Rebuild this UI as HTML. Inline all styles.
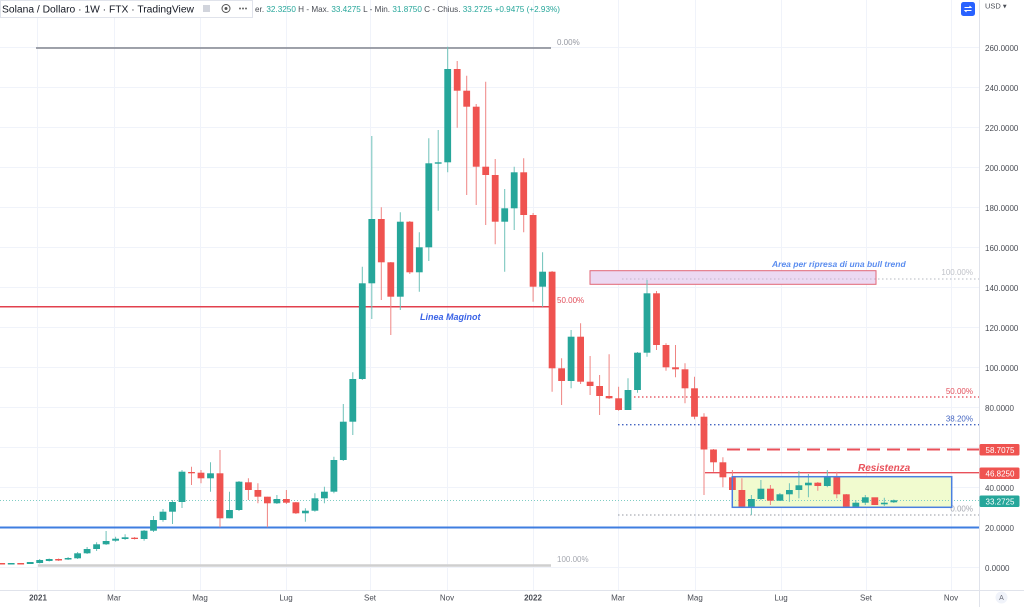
<!DOCTYPE html>
<html><head><meta charset="utf-8"><style>
html,body{margin:0;padding:0;background:#fff;}
svg{display:block;font-family:"Liberation Sans",sans-serif;}
</style></head><body>
<svg width="1024" height="607" viewBox="0 0 1024 607" xmlns="http://www.w3.org/2000/svg">
<rect width="1024" height="607" fill="#fff"/>
<!-- grid -->
<g stroke="#f0f3fa" stroke-width="1">
<path d="M0 47.5H979M0 87.5H979M0 127.5H979M0 167.5H979M0 207.5H979M0 247.5H979M0 287.5H979M0 327.5H979M0 367.5H979M0 407.5H979M0 447.5H979M0 487.5H979M0 527.5H979M0 567.5H979"/>
<path d="M37.5 0V590M114.5 0V590M200.5 0V590M286.5 0V590M370.5 0V590M447.5 0V590M533.5 0V590M618.5 0V590M695.5 0V590M781.5 0V590M866.5 0V590M951.5 0V590"/>
</g>
<!-- fib lines upper-left -->
<line x1="36" y1="48" x2="551" y2="48" stroke="#80848e" stroke-width="1.5"/>
<line x1="38" y1="565.5" x2="551" y2="565.5" stroke="#cfcfcf" stroke-width="2.5"/>
<line x1="0" y1="306.7" x2="551" y2="306.7" stroke="#e2404e" stroke-width="1.5"/>
<text x="557" y="45" font-size="8" fill="#9598a1">0.00%</text>
<text x="557" y="303" font-size="8" fill="#e2505c">50.00%</text>
<text x="557" y="562" font-size="8" fill="#a5a8b0">100.00%</text>
<text x="420" y="320" font-size="9" font-weight="bold" font-style="italic" fill="#3a63e6">Linea Maginot</text>
<!-- fib right -->
<line x1="622" y1="279" x2="979" y2="279" stroke="#b5b8c0" stroke-width="1" stroke-dasharray="1.5,2.5"/>
<line x1="634" y1="397" x2="979" y2="397" stroke="#e2404e" stroke-width="1.3" stroke-dasharray="1.5,2.5"/>
<line x1="618" y1="424.7" x2="979" y2="424.7" stroke="#4566c2" stroke-width="1.3" stroke-dasharray="1.5,2.5"/>
<line x1="618" y1="515" x2="979" y2="515" stroke="#9598a1" stroke-width="1" stroke-dasharray="1.5,2.5"/>
<text x="973" y="275" font-size="8" fill="#c0c2c8" text-anchor="end">100.00%</text>
<text x="973" y="394" font-size="8" fill="#e2505c" text-anchor="end">50.00%</text>
<text x="973" y="421.7" font-size="8" fill="#4566c2" text-anchor="end">38.20%</text>
<text x="973" y="511.7" font-size="8" fill="#a5a8b0" text-anchor="end">0.00%</text>
<!-- pink rect -->
<rect x="590" y="270.7" width="286" height="13.6" fill="#ecd9f2" stroke="#e06677" stroke-width="1"/>
<line x1="622" y1="279" x2="876" y2="279" stroke="#c4b5cc" stroke-width="1" stroke-dasharray="1.5,2.5"/>
<text x="772" y="267" font-size="8.5" font-weight="bold" font-style="italic" fill="#5b8def">Area per ripresa di una bull trend</text>
<!-- range box fill -->
<rect x="732.3" y="476.7" width="219.4" height="30.6" fill="#f1fbcf"/>
<!-- resistance lines -->
<line x1="727" y1="449.5" x2="979" y2="449.5" stroke="#e8505a" stroke-width="2" stroke-dasharray="13,7"/>
<line x1="705" y1="472.7" x2="979" y2="472.7" stroke="#e8505a" stroke-width="1.3"/>
<text x="858" y="471" font-size="10" font-weight="bold" font-style="italic" fill="#e8505a">Resistenza</text>
<!-- current price & support -->
<line x1="0" y1="500.5" x2="979" y2="500.5" stroke="#7fcdc4" stroke-width="1" stroke-dasharray="1,2"/>
<line x1="0" y1="527.5" x2="979" y2="527.5" stroke="#3f7ee0" stroke-width="2"/>
<!-- wicks -->
<path stroke="#6fc2b9" stroke-width="1" fill="none" d="M11.2 563V564.5M39.7 559V563.5M49.2 558.5V561.5M68.1 557V560M77.6 552V559M87.1 547V554M96.6 542.3V551M106.1 531V545M115.6 536.7V541.7M125.1 534.3V540M144.1 530V540.7M153.5 516V532M163 509V521.7M172.5 500V524M182 470V508M210.5 462.3V491.7M229.5 491.7V518.3M239 481V511M276.9 495V504M305.4 508.3V521.7M314.9 493.3V511.7M324.4 486.7V503.3M333.9 456.7V493.3M343.3 404V461M352.8 372.3V435M362.3 266.7V380M371.8 136V319M400.3 212.3V310M419.3 232.3V291.7M428.8 138.3V261M438.2 130V210.7M447.7 46.7V172.3M504.7 189V271.7M514.2 166.7V230M542.6 252.3V306.7M571.1 330V388.3M628 378.3V410M637.5 352V392.7M647 280V356.7M751.4 495V515M760.9 480V500M779.9 493V501M789.4 483.3V501.7M798.9 471V498.3M808.4 474V497.3M827.3 470V487.3M855.8 500V507M865.3 495V505M884.3 497.7V506M893.8 499.5V503"/>
<path stroke="#ef8583" stroke-width="1" fill="none" d="M58.6 558.5V561M134.6 537V539.5M191.5 466.7V485M201 470V483.3M220 450V527.3M248.4 478.3V500M257.9 483.3V503.3M267.4 496.7V527.3M286.4 490V504M295.9 502V514M381.3 207.3V300M390.8 262V335M409.8 221V274M457.2 61V127.7M466.7 75.7V195M476.2 104V205M485.7 81.7V225M495.2 159V244.3M523.7 158.3V232.3M533.1 213V301.7M552.1 271V391.7M561.6 358.3V405M580.6 323.3V384M590.1 356V395M599.6 375V415M609.1 354.3V399M618.6 386.7V410.7M656.5 291V350M666 343.3V370.7M675.5 345V377.3M685 363.3V403.3M694.5 376.7V419.3M704 413.3V495M713.5 449V471.7M722.9 457.3V487.3M732.4 470V491M741.9 478.3V507M770.4 485V505M817.8 482V490.7M836.8 471.7V498.3M846.3 494V507"/>
<!-- teal bodies -->
<g fill="#26a69a">
<rect x="7.8" y="563" width="6.8" height="1.5"/>
<rect x="26.8" y="562" width="6.8" height="2"/>
<rect x="36.3" y="560" width="6.8" height="3"/>
<rect x="45.8" y="559" width="6.8" height="2"/>
<rect x="64.7" y="558" width="6.8" height="1.5"/>
<rect x="74.2" y="553.3" width="6.8" height="5"/>
<rect x="83.7" y="549" width="6.8" height="4.3"/>
<rect x="93.2" y="544.3" width="6.8" height="4.7"/>
<rect x="102.7" y="541" width="6.8" height="3.3"/>
<rect x="112.2" y="538.7" width="6.8" height="2"/>
<rect x="121.7" y="537.3" width="6.8" height="1.7"/>
<rect x="140.7" y="530.7" width="6.8" height="8.3"/>
<rect x="150.1" y="520" width="6.8" height="10.7"/>
<rect x="159.6" y="511.7" width="6.8" height="8.3"/>
<rect x="169.1" y="502" width="6.8" height="9.7"/>
<rect x="178.6" y="471.7" width="6.8" height="30.3"/>
<rect x="207.1" y="473.3" width="6.8" height="5"/>
<rect x="226.1" y="510" width="6.8" height="8.3"/>
<rect x="235.6" y="481.7" width="6.8" height="28.3"/>
<rect x="273.5" y="499" width="6.8" height="4.3"/>
<rect x="302" y="510.7" width="6.8" height="2.6"/>
<rect x="311.5" y="498.3" width="6.8" height="12.4"/>
<rect x="321" y="491.7" width="6.8" height="6.6"/>
<rect x="330.5" y="460" width="6.8" height="31.7"/>
<rect x="339.9" y="421.7" width="6.8" height="38.3"/>
<rect x="349.4" y="379" width="6.8" height="42.7"/>
<rect x="358.9" y="283.3" width="6.8" height="95.7"/>
<rect x="368.4" y="219" width="6.8" height="64.3"/>
<rect x="396.9" y="221.7" width="6.8" height="75"/>
<rect x="415.9" y="247.3" width="6.8" height="25"/>
<rect x="425.4" y="163.3" width="6.8" height="84"/>
<rect x="434.8" y="162.3" width="6.8" height="1.4"/>
<rect x="444.3" y="69" width="6.8" height="93.3"/>
<rect x="501.3" y="208.3" width="6.8" height="13.4"/>
<rect x="510.8" y="172.3" width="6.8" height="36"/>
<rect x="539.2" y="271.7" width="6.8" height="15"/>
<rect x="567.7" y="336.7" width="6.8" height="44.3"/>
<rect x="624.6" y="390" width="6.8" height="20"/>
<rect x="634.1" y="352.7" width="6.8" height="37.3"/>
<rect x="643.6" y="293.3" width="6.8" height="59.4"/>
<rect x="748" y="499" width="6.8" height="7.7"/>
<rect x="757.5" y="488.7" width="6.8" height="10.3"/>
<rect x="776.5" y="494.3" width="6.8" height="6.4"/>
<rect x="786" y="490" width="6.8" height="4.3"/>
<rect x="795.5" y="485.3" width="6.8" height="4.7"/>
<rect x="805" y="482.7" width="6.8" height="2.6"/>
<rect x="823.9" y="477" width="6.8" height="9"/>
<rect x="852.4" y="502.7" width="6.8" height="4"/>
<rect x="861.9" y="497.3" width="6.8" height="5.4"/>
<rect x="880.9" y="502.7" width="6.8" height="1.6"/>
<rect x="890.4" y="500.3" width="6.8" height="2"/>
</g>
<!-- red bodies -->
<g fill="#ef5350">
<rect x="-1.7" y="563" width="6.8" height="1.5"/>
<rect x="17.3" y="563" width="6.8" height="1.5"/>
<rect x="55.2" y="559" width="6.8" height="1.5"/>
<rect x="131.2" y="537.7" width="6.8" height="1.3"/>
<rect x="188.1" y="472" width="6.8" height="1.3"/>
<rect x="197.6" y="472.7" width="6.8" height="5.6"/>
<rect x="216.6" y="473.3" width="6.8" height="45"/>
<rect x="245" y="482.3" width="6.8" height="7.7"/>
<rect x="254.5" y="490" width="6.8" height="6.7"/>
<rect x="264" y="496.7" width="6.8" height="6.6"/>
<rect x="283" y="499" width="6.8" height="3.7"/>
<rect x="292.5" y="502.3" width="6.8" height="11"/>
<rect x="377.9" y="219" width="6.8" height="43.3"/>
<rect x="387.4" y="262.3" width="6.8" height="34.4"/>
<rect x="406.4" y="221.7" width="6.8" height="50.6"/>
<rect x="453.8" y="69" width="6.8" height="21.7"/>
<rect x="463.3" y="90.7" width="6.8" height="16"/>
<rect x="472.8" y="106.7" width="6.8" height="60"/>
<rect x="482.3" y="166.7" width="6.8" height="8.3"/>
<rect x="491.8" y="175" width="6.8" height="46.7"/>
<rect x="520.3" y="172.3" width="6.8" height="42.7"/>
<rect x="529.7" y="215" width="6.8" height="71.7"/>
<rect x="548.7" y="271.7" width="6.8" height="96.6"/>
<rect x="558.2" y="368.3" width="6.8" height="12.7"/>
<rect x="577.2" y="336.7" width="6.8" height="45"/>
<rect x="586.7" y="381.7" width="6.8" height="4.3"/>
<rect x="596.2" y="386" width="6.8" height="10"/>
<rect x="605.7" y="396" width="6.8" height="2.3"/>
<rect x="615.2" y="398.3" width="6.8" height="11.7"/>
<rect x="653.1" y="293.3" width="6.8" height="51.7"/>
<rect x="662.6" y="345" width="6.8" height="22.3"/>
<rect x="672.1" y="367.3" width="6.8" height="2"/>
<rect x="681.6" y="369.3" width="6.8" height="19"/>
<rect x="691.1" y="388.3" width="6.8" height="28.4"/>
<rect x="700.6" y="416.7" width="6.8" height="32.8"/>
<rect x="710.1" y="449.5" width="6.8" height="12.8"/>
<rect x="719.5" y="462.3" width="6.8" height="15"/>
<rect x="729" y="477.3" width="6.8" height="12.7"/>
<rect x="738.5" y="490" width="6.8" height="16.7"/>
<rect x="767" y="488.7" width="6.8" height="12"/>
<rect x="814.4" y="482.7" width="6.8" height="3.3"/>
<rect x="833.4" y="477" width="6.8" height="17.3"/>
<rect x="842.9" y="494.3" width="6.8" height="12.4"/>
<rect x="871.4" y="497.3" width="6.8" height="7.7"/>
</g>
<!-- range box border -->
<rect x="732.3" y="476.7" width="219.4" height="30.6" fill="none" stroke="#4a7fe0" stroke-width="1.5"/>
<!-- axes -->
<rect x="979.5" y="0" width="44.5" height="607" fill="#fff"/>
<rect x="0" y="590.5" width="1024" height="16.5" fill="#fff"/>
<line x1="979.5" y1="0" x2="979.5" y2="607" stroke="#e0e3eb" stroke-width="1"/>
<line x1="0" y1="590.5" x2="1024" y2="590.5" stroke="#e0e3eb" stroke-width="1"/>
<g font-size="8" fill="#4a4d55">
<text x="985" y="50.8">260.0000</text>
<text x="985" y="90.8">240.0000</text>
<text x="985" y="130.8">220.0000</text>
<text x="985" y="170.8">200.0000</text>
<text x="985" y="210.8">180.0000</text>
<text x="985" y="250.8">160.0000</text>
<text x="985" y="290.8">140.0000</text>
<text x="985" y="330.8">120.0000</text>
<text x="985" y="370.8">100.0000</text>
<text x="985" y="410.8">80.0000</text>
<text x="985" y="490.8">40.0000</text>
<text x="985" y="530.8">20.0000</text>
<text x="985" y="570.8">0.0000</text>
</g>
<rect x="979.5" y="444" width="40" height="11.5" rx="1.5" fill="#ef5350"/>
<text x="985.5" y="452.8" font-size="8" fill="#fff">58.7075</text>
<rect x="979.5" y="467.5" width="40" height="11.5" rx="1.5" fill="#ef5350"/>
<text x="985.5" y="476.3" font-size="8" fill="#fff">46.8250</text>
<rect x="979.5" y="495.5" width="40" height="11.5" rx="1.5" fill="#26a69a"/>
<text x="985.5" y="504.3" font-size="8" fill="#fff">33.2725</text>
<g font-size="8" fill="#4a4d55" text-anchor="middle">
<text x="38" y="600.5" font-weight="bold">2021</text>
<text x="114" y="600.5">Mar</text>
<text x="200" y="600.5">Mag</text>
<text x="286" y="600.5">Lug</text>
<text x="370" y="600.5">Set</text>
<text x="447" y="600.5">Nov</text>
<text x="533" y="600.5" font-weight="bold">2022</text>
<text x="618" y="600.5">Mar</text>
<text x="695" y="600.5">Mag</text>
<text x="781" y="600.5">Lug</text>
<text x="866" y="600.5">Set</text>
<text x="951" y="600.5">Nov</text>
</g>
<circle cx="1001.5" cy="597.5" r="6" fill="#f0f3fa"/>
<text x="1001.5" y="600" font-size="7" fill="#6a6d78" text-anchor="middle">A</text>
<text x="985" y="8.5" font-size="7.5" fill="#4a4d55">USD ▾</text>
<rect x="961" y="2" width="14" height="14" rx="2.5" fill="#2962ff"/>
<path d="M964.5 7.5h6.5l-1.5-1.5M971.5 10.5h-6.5l1.5 1.5" stroke="#fff" stroke-width="1" fill="none"/>
<!-- header -->
<rect x="0.5" y="0.5" width="252" height="17" fill="#fff" stroke="#e0e3eb" stroke-width="1"/>
<text x="2" y="12.5" font-size="10" fill="#131722" textLength="192" lengthAdjust="spacingAndGlyphs">Solana / Dollaro · 1W · FTX · TradingView</text>
<rect x="203" y="5" width="7" height="7" fill="#d1d4dc"/>
<circle cx="226" cy="8.5" r="4" fill="none" stroke="#555" stroke-width="1"/>
<circle cx="226" cy="8.5" r="1.5" fill="#555"/>
<g fill="#666"><circle cx="240" cy="8.5" r="1"/><circle cx="243" cy="8.5" r="1"/><circle cx="246" cy="8.5" r="1"/></g>
<text x="255" y="12" font-size="8.5" fill="#4a4d55" textLength="305" lengthAdjust="spacingAndGlyphs">er. <tspan fill="#26a69a">32.3250</tspan> H - Max. <tspan fill="#26a69a">33.4275</tspan> L - Min. <tspan fill="#26a69a">31.8750</tspan> C - Chius. <tspan fill="#26a69a">33.2725 +0.9475 (+2.93%)</tspan></text>
</svg>
</body></html>
